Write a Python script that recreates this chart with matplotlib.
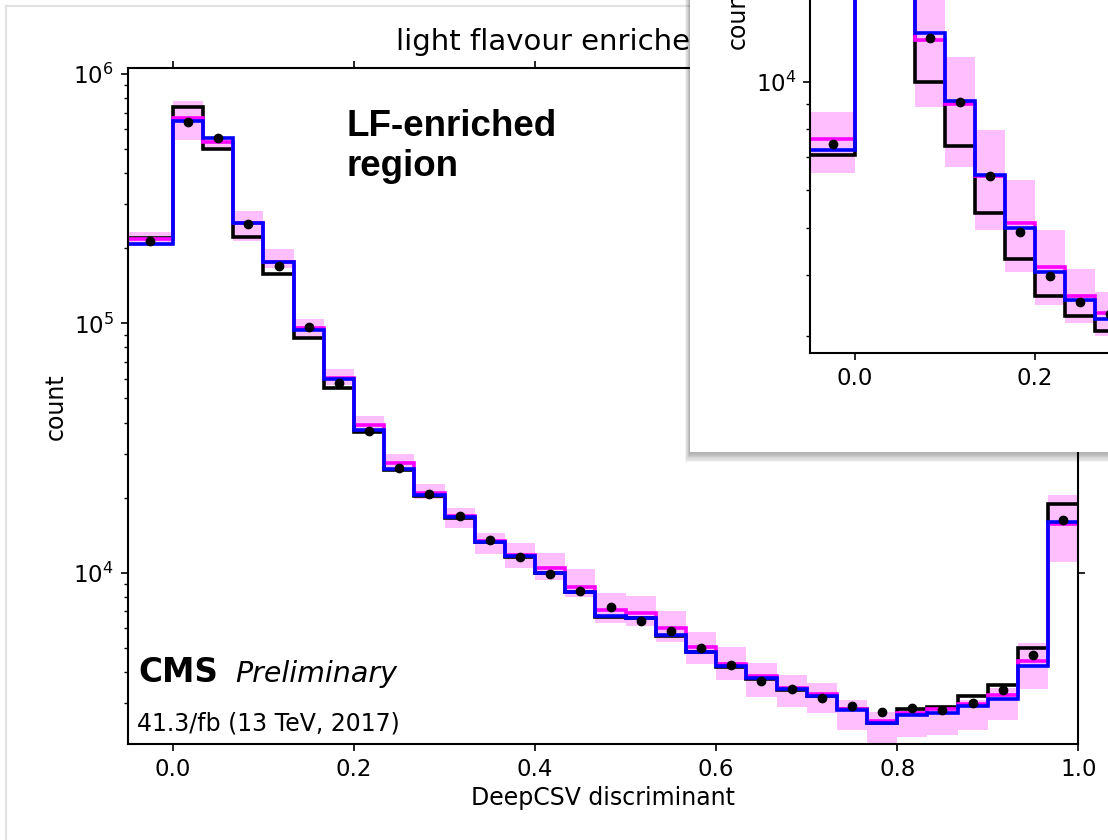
import numpy as np
import matplotlib
matplotlib.use("Agg")
import matplotlib.pyplot as plt
from matplotlib.patches import Rectangle
from matplotlib.lines import Line2D
from matplotlib.ticker import NullFormatter

# DeepCSV histogram binning: one underflow bin, then 30 equal bins in [0, 1]
edges = np.concatenate([[-0.05], np.linspace(0, 1, 31)])
centres = 0.5 * (edges[:-1] + edges[1:])

# main plot (light flavour enriched region)
mc_black = [219300, 735300, 500300, 222600, 157700, 87100, 55150, 36540, 25800, 20300,
            16600, 13250, 11600, 9950, 8350, 6650, 6550, 5580, 4790, 4200,
            3740, 3390, 3190, 2840, 2490, 2830, 2900, 3200, 3540, 4970, 18840]
mc_magenta = [217300, 664100, 532100, 251800, 176600, 95500, 60170, 39090, 27440, 20920,
              16900, 13450, 11800, 10400, 8780, 7080, 6900, 5980, 5020, 4320,
              3850, 3460, 3250, 2830, 2530, 2740, 2830, 2970, 3230, 4420, 15660]
mc_blue = [207500, 647800, 555300, 253200, 175600, 94000, 59620, 37330, 25960, 20480,
           16670, 13300, 11660, 10000, 8385, 6700, 6595, 5620, 4820, 4220,
           3770, 3410, 3210, 2810, 2500, 2680, 2740, 2920, 3100, 4220, 16000]
data = [213800, 643600, 555300, 250200, 170200, 96900, 57430, 36980, 26350, 20670,
        16910, 13510, 11580, 9870, 8440, 7300, 6415, 5845, 4970, 4260,
        3670, 3420, 3130, 2920, 2770, 2860, 2810, 2990, 3380, 4670, 16260]
band_lo = [204800, 543500, 510000, 213800, 166200, 88400, 56550, 36220, 25800, 19680,
           15140, 11840, 10400, 9315, 8005, 6295, 6105, 5280, 4300, 3710,
           3180, 2900, 2730, 2340, 2080, 2200, 2230, 2340, 2560, 3400, 11000]
band_hi = [231700, 781400, 560000, 282900, 198600, 104000, 65560, 42600, 29900, 22670,
           18110, 14450, 13110, 11950, 10310, 8260, 8055, 7030, 5790, 5020,
           4330, 3880, 3600, 3080, 2770, 2810, 2900, 3080, 3430, 5200, 20480]

# inset: first bins of the other region (only these are on screen)
in_edges = edges[:11]
in_centres = centres[:10]
in_black = [7075, 52000, 30000, 10000, 7400, 5385, 4316, 3630, 3303, 3075]
in_magenta = [7620, 45000, 34000, 12200, 9010, 6420, 5120, 4170, 3630, 3340]
in_blue = [7245, 46000, 35000, 12590, 9155, 6440, 5000, 4071, 3559, 3249]
in_data = [7445, 45500, 34500, 12300, 9080, 6400, 4920, 3990, 3530, 3330]
in_lo = [6510, 38000, 29000, 8870, 6700, 4960, 4060, 3475, 3200, 3000]
in_hi = [8690, 55000, 40000, 17500, 11240, 7970, 6280, 4960, 4120, 3700]

W, H = 1108, 840
LBL = 17
TCK = 16.5


def fx(px):
    return px / W


def fy(py):
    return 1 - py / H


def draw_hist(ax, e, c, lo, hi, black, magenta, blue, pts):
    ax.stairs(hi, e, baseline=lo, fill=True, color='#ff00ff', alpha=0.25, lw=0)
    ax.stairs(black, e, baseline=None, color='black', lw=2.6)
    ax.stairs(magenta, e, baseline=None, color='#ff00ff', lw=2.6)
    ax.stairs(blue, e, baseline=None, color='#0000ff', lw=2.6)
    ax.plot(c, pts, 'o', color='black', ms=6, zorder=5)


def style_axes(ax, xticks):
    ax.set_yscale('log')
    ax.set_xlim(-0.05, 1.0)
    ax.set_xticks(xticks)
    ax.yaxis.set_minor_formatter(NullFormatter())
    ax.tick_params(which='major', direction='out', length=5, width=1.2, pad=5,
                   labelsize=TCK, top=True, right=True)
    ax.tick_params(which='minor', direction='out', length=3, width=1.0,
                   top=False, right=False)
    for s in ax.spines.values():
        s.set_linewidth(1.5)
    ax.set_ylabel("count", fontsize=LBL)


fig = plt.figure(figsize=(W / 100, H / 100), dpi=100)

# main axes
ax = fig.add_axes([fx(127.7), fy(744), (1078.3 - 127.7) / W, (744 - 68.3) / H])
ax.set_zorder(0)
draw_hist(ax, edges, centres, band_lo, band_hi, mc_black, mc_magenta, mc_blue, data)
style_axes(ax, [0.0, 0.2, 0.4, 0.6, 0.8, 1.0])
ax.set_ylim(2054, 1.054e6)
ax.set_xlabel("DeepCSV discriminant", fontsize=LBL)
ax.set_title("light flavour enriched region", fontsize=21, y=1.0, pad=13)

ax.text(0.0112, 0.0922, "CMS", transform=ax.transAxes, fontsize=23.5,
        fontweight='bold', va='baseline')
ax.text(0.1129, 0.0922, "Preliminary", transform=ax.transAxes, fontsize=20.5,
        style='italic', va='baseline')
ax.text(0.0101, 0.0197, "41.3/fb (13 TeV, 2017)", transform=ax.transAxes,
        fontsize=17, va='baseline')
ax.text(0.2304, 0.8998, "LF-enriched", transform=ax.transAxes, fontsize=26.5,
        fontweight='bold', family='Liberation Sans', va='baseline')
ax.text(0.2304, 0.8406, "region", transform=ax.transAxes, fontsize=26.5,
        fontweight='bold', family='Liberation Sans', va='baseline')

# faint screenshot border on the left and top
fig.add_artist(Line2D([fx(6), fx(6)], [fy(6), 0], color='#e2e2e2', lw=1.5,
                      transform=fig.transFigure, zorder=1))
fig.add_artist(Line2D([fx(6), fx(690)], [fy(6), fy(6)], color='#e2e2e2', lw=1.5,
                      transform=fig.transFigure, zorder=1))

# inset panel: soft shadow, white card, then the zoomed plot
for i in range(1, 9):
    fig.add_artist(Rectangle((fx(690 - 0.6 * i), fy(452 + 1.3 * i)), 1.2, 1.2,
                             transform=fig.transFigure, facecolor='black',
                             alpha=0.045, lw=0, zorder=2))
fig.add_artist(Rectangle((fx(690), fy(452)), 1.2, 1.2, transform=fig.transFigure,
                         facecolor='white', lw=0, zorder=3))

ax_in = fig.add_axes([fx(810), fy(353), 945 / W, 675.7 / H])
ax_in.set_zorder(5)
draw_hist(ax_in, in_edges, in_centres, in_lo, in_hi, in_black, in_magenta, in_blue, in_data)
style_axes(ax_in, [0.0, 0.2])
ax_in.set_ylim(2770, 68000)

fig.savefig("out.png", dpi=100)
